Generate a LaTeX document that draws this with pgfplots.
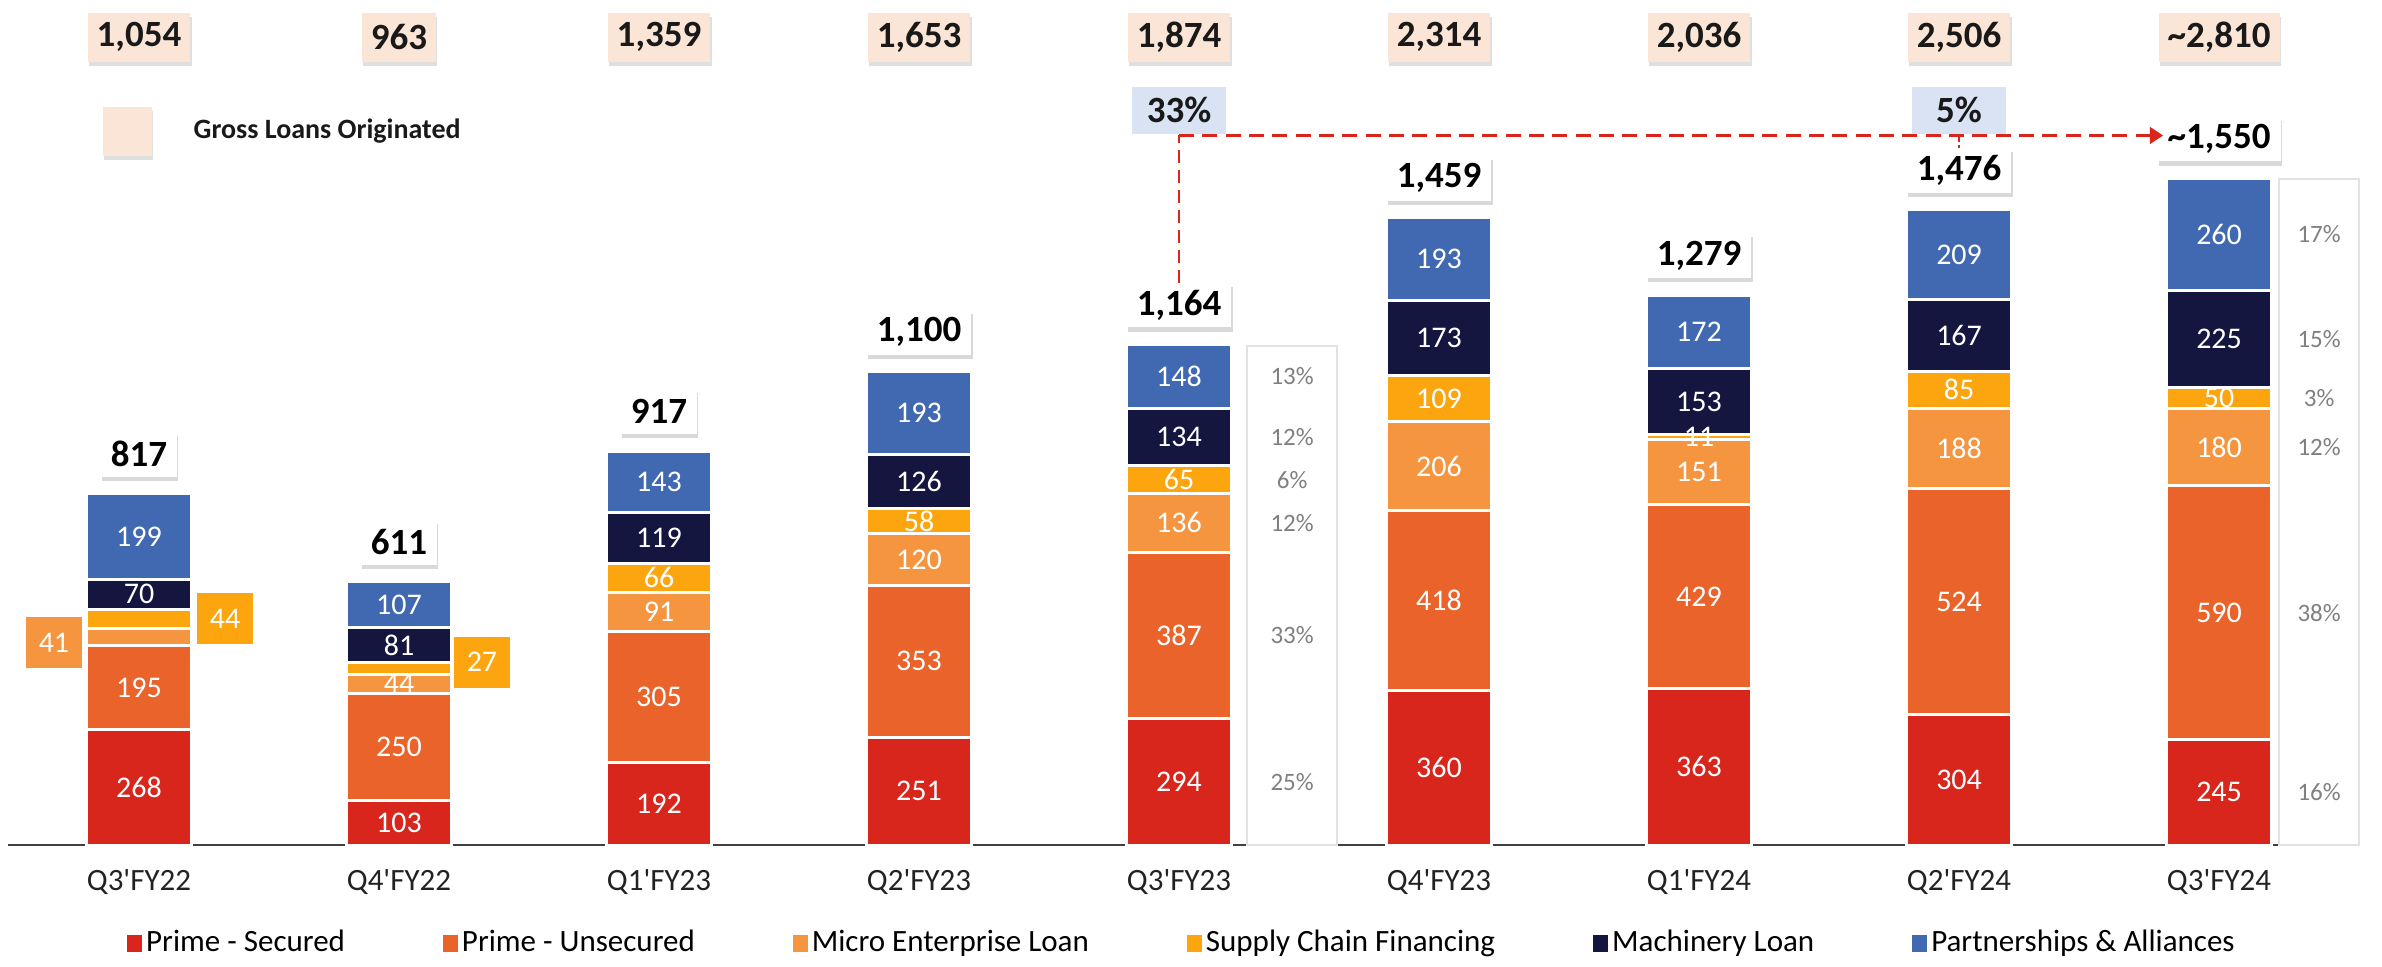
\documentclass[border=0pt]{standalone}
\usepackage{pgfplots}
\pgfplotsset{compat=1.18}
\usepackage{pgfplotstable}
\usepackage{fontspec}
\setmainfont{Carlito}
\usetikzlibrary{shadows,arrows.meta}
\definecolor{cPS}{HTML}{D9261C}
\definecolor{cPU}{HTML}{E9632B}
\definecolor{cME}{HTML}{F59540}
\definecolor{cSC}{HTML}{FDA50F}
\definecolor{cML}{HTML}{14163F}
\definecolor{cPA}{HTML}{4169B1}
\definecolor{peach}{HTML}{FBE5D6}
\definecolor{lblue}{HTML}{DAE3F3}
\definecolor{boxgray}{HTML}{E2E2E2}
\definecolor{pctgray}{HTML}{808080}
\definecolor{tickc}{HTML}{222222}
\definecolor{axisc}{HTML}{404040}
\newcommand\fs[1]{\fontsize{#1}{#1}\selectfont}

\pgfplotstableread{
x ps pu me sc ml pa
0 268 195 41 44 70 199
1 103 250 44 27 81 107
2 192 305 91 66 119 143
3 251 353 120 58 126 193
4 294 387 136 65 134 148
5 360 418 206 109 173 193
6 363 429 151 11 153 172
7 304 524 188 85 167 209
8 245 590 180 50 225 260
}\loans

\pgfplotstableread{
x y lab
0 134 268
0 365.5 195
0 583 70
0 717.5 199
1 51.5 103
1 228 250
1 375 44
1 464.5 81
1 558.5 107
2 96 192
2 344.5 305
2 542.5 91
2 621 66
2 713.5 119
2 844.5 143
3 125.5 251
3 427.5 353
3 664 120
3 753 58
3 845 126
3 1004.5 193
4 147 294
4 487.5 387
4 749 136
4 849.5 65
4 949 134
4 1090 148
5 180 360
5 569 418
5 881 206
5 1038.5 109
5 1179.5 173
5 1362.5 193
6 181.5 363
6 577.5 429
6 867.5 151
6 948.5 11
6 1030.5 153
6 1193 172
7 152 304
7 566 524
7 922 188
7 1058.5 85
7 1184.5 167
7 1372.5 209
8 122.5 245
8 540 590
8 925 180
8 1040 50
8 1177.5 225
8 1420 260
}\seglabels

\pgfplotsset{base/.style={at={(0,0)}, anchor=south west, scale only axis,
  width=714.6pt, height=289.8pt,
  xmin=-0.53462, xmax=8.62692, ymin=-281.4, ymax=1965.1,
  clip=false, axis line style={draw=none}, ytick=\empty, major tick length=0pt}}

\tikzset{
  mytot/.style={fill=white, inner xsep=3pt, inner ysep=0pt, minimum height=13.5pt,
     font=\bfseries\fs{11.1}, text=black,
     drop shadow={shadow xshift=0.4pt, shadow yshift=-1.3pt, opacity=0.3}},
  mygross/.style={fill=peach, inner xsep=2.7pt, inner ysep=0pt, minimum height=14.7pt,
     font=\bfseries\fs{11.1}, text=black!90,
     drop shadow={shadow xshift=0.4pt, shadow yshift=-1.3pt, opacity=0.25}},
  mypct/.style={text=pctgray, font=\fs{7.5}, inner sep=0pt},
  myside/.style={text=white, font=\fs{9}, minimum width=16.8pt, minimum height=15.3pt, inner sep=0pt},
  mygrow/.style={fill=lblue, minimum width=28.2pt, minimum height=14.1pt, inner sep=0pt,
     font=\bfseries\fs{11.1}, text=black!90}
}

\begin{document}
\begin{tikzpicture}
\begin{axis}[base,
  ybar stacked, bar width=31.5pt,
  xtick={0,...,8},
  xticklabels={Q3\textquotesingle FY22,Q4\textquotesingle FY22,Q1\textquotesingle FY23,Q2\textquotesingle FY23,Q3\textquotesingle FY23,Q4\textquotesingle FY23,Q1\textquotesingle FY24,Q2\textquotesingle FY24,Q3\textquotesingle FY24},
  xticklabel style={anchor=center, yshift=25.2pt, font=\fs{9.3}, text=tickc},
  legend columns=6,
  legend style={at={(0.4966,0.0238)}, anchor=center, draw=none, fill=none,
     font=\fs{9.3}, inner sep=0pt, nodes={inner xsep=1.3pt, inner ysep=0pt},
     /tikz/every even column/.append style={column sep=28pt}},
  legend image code/.code={\path[#1, draw=none] (0pt,-2.55pt) rectangle (4.5pt,2.55pt);},
]
\addplot[fill=cPS, draw=white, line width=0.9pt] table[x=x,y=ps]{\loans};
\addlegendentry{Prime - Secured}
\addplot[fill=cPU, draw=white, line width=0.9pt] table[x=x,y=pu]{\loans};
\addlegendentry{Prime - Unsecured}
\addplot[fill=cME, draw=white, line width=0.9pt] table[x=x,y=me]{\loans};
\addlegendentry{Micro Enterprise Loan}
\addplot[fill=cSC, draw=white, line width=0.9pt] table[x=x,y=sc]{\loans};
\addlegendentry{Supply Chain Financing}
\addplot[fill=cML, draw=white, line width=0.9pt] table[x=x,y=ml]{\loans};
\addlegendentry{Machinery Loan}
\addplot[fill=cPA, draw=white, line width=0.9pt] table[x=x,y=pa]{\loans};
\addlegendentry{Partnerships \& Alliances}
\draw[line width=0.8pt, axisc] (axis cs:-0.5038,0) -- (axis cs:8.4923,0);
\end{axis}

\begin{axis}[base, xtick=\empty]
\addplot[only marks, mark=none, nodes near coords, point meta=explicit symbolic,
  nodes near coords style={anchor=center, text=white, font=\fs{9}, inner sep=0pt}]
  table[x=x,y=y,meta=lab]{\seglabels};

% side labels
\node[myside, fill=cME] at (axis cs:-0.327,470) {41};
\node[myside, fill=cSC] at (axis cs:0.331,526) {44};
\node[myside, fill=cSC] at (axis cs:1.319,425) {27};

% percentage boxes
\draw[boxgray, line width=0.75pt, fill=white] (axis cs:4.262,0) rectangle (axis cs:4.608,1160);
\draw[boxgray, line width=0.75pt, fill=white] (axis cs:8.231,0) rectangle (axis cs:8.538,1549);
\node[mypct] at (axis cs:4.435,1090) {13\%};
\node[mypct] at (axis cs:4.435,949) {12\%};
\node[mypct] at (axis cs:4.435,849.5) {6\%};
\node[mypct] at (axis cs:4.435,749) {12\%};
\node[mypct] at (axis cs:4.435,487.5) {33\%};
\node[mypct] at (axis cs:4.435,147) {25\%};
\node[mypct] at (axis cs:8.385,1420) {17\%};
\node[mypct] at (axis cs:8.385,1177.5) {15\%};
\node[mypct] at (axis cs:8.385,1040) {3\%};
\node[mypct] at (axis cs:8.385,925) {12\%};
\node[mypct] at (axis cs:8.385,540) {38\%};
\node[mypct] at (axis cs:8.385,122.5) {16\%};

% totals
\node[mytot] at (axis cs:0,909) {817};
\node[mytot] at (axis cs:1,704) {611};
\node[mytot] at (axis cs:2,1008) {917};
\node[mytot] at (axis cs:3,1193) {1,100};
\node[mytot] at (axis cs:4,1256) {1,164};
\node[mytot] at (axis cs:5,1551) {1,459};
\node[mytot] at (axis cs:6,1371) {1,279};
\node[mytot] at (axis cs:7,1569) {1,476};
\node[mytot] at (axis cs:8,1642) {\textasciitilde1,550};

% growth arrows
\draw[cPS, line width=0.6pt, dash pattern=on 4pt off 2pt] (axis cs:4,1307) -- (axis cs:4,1650);
\draw[cPS, line width=0.9pt, dash pattern=on 4.5pt off 2.5pt, -{Triangle[length=4pt,width=5pt]}] (axis cs:4,1650) -- (axis cs:7.785,1650);
\draw[cPS, line width=0.4pt, dash pattern=on 2pt off 1pt] (axis cs:7,1650) -- (axis cs:7,1622);
\node[mygrow] at (axis cs:4,1709) {33\%};
\node[mygrow] at (axis cs:7,1709) {5\%};

% gross loans originated
\node[mygross] at (axis cs:0,1879) {1,054};
\node[mygross] at (axis cs:1,1879) {963};
\node[mygross] at (axis cs:2,1879) {1,359};
\node[mygross] at (axis cs:3,1879) {1,653};
\node[mygross] at (axis cs:4,1879) {1,874};
\node[mygross] at (axis cs:5,1879) {2,314};
\node[mygross] at (axis cs:6,1879) {2,036};
\node[mygross] at (axis cs:7,1879) {2,506};
\node[mygross] at (axis cs:8,1879) {\textasciitilde2,810};
\node[fill=peach, minimum size=14.7pt, inner sep=0pt,
  drop shadow={shadow xshift=0.4pt, shadow yshift=-1.3pt, opacity=0.25}] at (axis cs:-0.046,1660) {};
\node[anchor=west, font=\bfseries\fs{8.4}, text=black!90, inner sep=0pt] at (axis cs:0.2077,1660) {Gross Loans Originated};
\end{axis}
\pgfresetboundingbox
\path (0,0) rectangle (714.6pt,289.8pt);
\end{tikzpicture}
\end{document}
